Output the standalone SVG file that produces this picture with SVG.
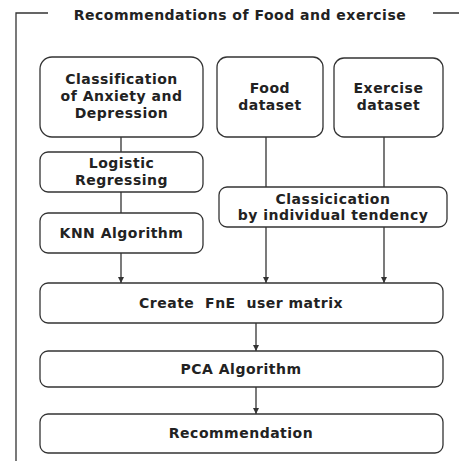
<svg xmlns="http://www.w3.org/2000/svg" width="459" height="461" viewBox="0 0 459 461">
<defs>
<style>
.box{fill:#fff;stroke:#333;stroke-width:1.3}
.t{font-family:"DejaVu Sans",Verdana,sans-serif;font-weight:bold;font-size:14px;letter-spacing:0.5px;fill:#222;text-anchor:middle}
.c{stroke:#333;stroke-width:1.3;fill:none}
</style>
<marker id="ah" viewBox="0 0 10 10" refX="10" refY="5" markerWidth="6" markerHeight="6" markerUnits="userSpaceOnUse" orient="auto">
<path d="M0,0 L10,5 L0,10 z" fill="#333"/>
</marker>
</defs>
<rect width="459" height="461" fill="#fff"/>
<g id="frame">
<path class="c" d="M48,13 H16 V461 M433,13 H459"/>
<text class="t" x="240" y="20">Recommendations of Food and exercise</text>
</g>
<g id="connectors">
<path class="c" d="M121,137 V152 M121,192 V213"/>
<path class="c" d="M266,137 V187 M384,137 V187"/>
<path class="c" d="M121,253 V283" marker-end="url(#ah)"/>
<path class="c" d="M266,227 V283" marker-end="url(#ah)"/>
<path class="c" d="M384,227 V283" marker-end="url(#ah)"/>
<path class="c" d="M256,323 V351" marker-end="url(#ah)"/>
<path class="c" d="M256,387 V414" marker-end="url(#ah)"/>
</g>
<g id="classification">
<rect class="box" x="40" y="57" width="163" height="80" rx="12"/>
<text class="t" x="121.5" y="84">Classification</text>
<text class="t" x="121.5" y="101">of Anxiety and</text>
<text class="t" x="121.5" y="118">Depression</text>
</g>
<g id="food">
<rect class="box" x="217" y="57" width="106" height="80" rx="10"/>
<text class="t" x="270" y="93">Food</text>
<text class="t" x="270" y="110">dataset</text>
</g>
<g id="exercise">
<rect class="box" x="334" y="58" width="109" height="79" rx="10"/>
<text class="t" x="388.5" y="93">Exercise</text>
<text class="t" x="388.5" y="110">dataset</text>
</g>
<g id="logistic">
<rect class="box" x="40" y="152" width="163" height="40" rx="8"/>
<text class="t" x="121.5" y="168">Logistic</text>
<text class="t" x="121.5" y="185">Regressing</text>
</g>
<g id="knn">
<rect class="box" x="40" y="213" width="163" height="40" rx="8"/>
<text class="t" x="121.5" y="238">KNN Algorithm</text>
</g>
<g id="tendency">
<rect class="box" x="219" y="187" width="228" height="40" rx="8"/>
<text class="t" x="333" y="204">Classicication</text>
<text class="t" x="333" y="220">by individual tendency</text>
</g>
<g id="matrix">
<rect class="box" x="40" y="283" width="403" height="40" rx="8"/>
<text class="t" x="241" y="308" style="white-space:pre">Create  FnE  user matrix</text>
</g>
<g id="pca">
<rect class="box" x="40" y="351" width="403" height="36" rx="8"/>
<text class="t" x="241" y="374">PCA Algorithm</text>
</g>
<g id="recommendation">
<rect class="box" x="40" y="414" width="403" height="39" rx="8"/>
<text class="t" x="241" y="438">Recommendation</text>
</g>
</svg>
